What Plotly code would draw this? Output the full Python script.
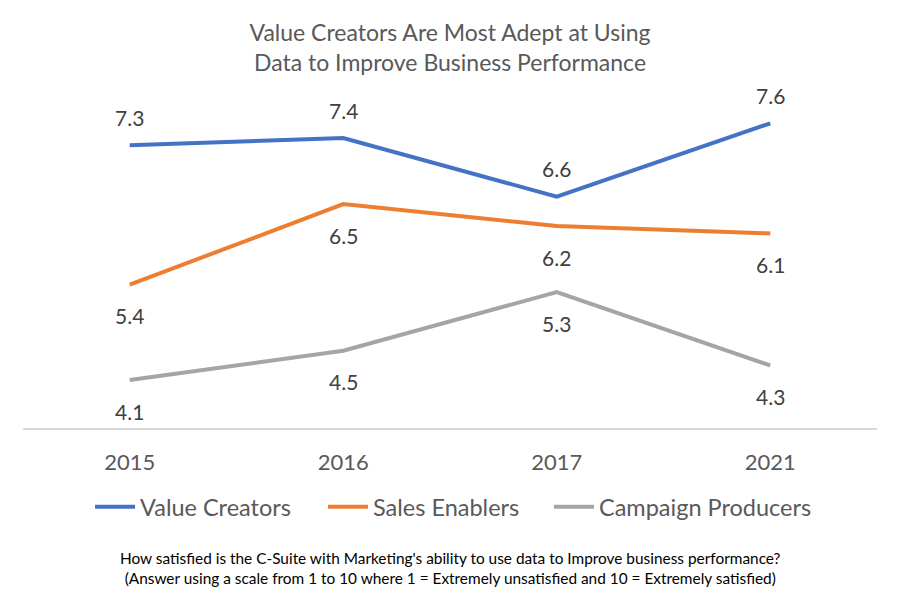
import plotly.graph_objects as go

years = ["2015", "2016", "2017", "2021"]
value_creators = [7.3, 7.4, 6.6, 7.6]
sales_enablers = [5.4, 6.5, 6.2, 6.1]
campaign_producers = [4.1, 4.5, 5.3, 4.3]

series_names = ["Value Creators", "Sales Enablers", "Campaign Producers"]
series_values = [value_creators, sales_enablers, campaign_producers]
series_colors = ["#4472C4", "#ED7D31", "#A5A5A5"]
label_shift = [28, -31, -31]
legend_ids = ["legend", "legend2", "legend3"]
legend_x = [0.0785, 0.3513, 0.6159]

title_text = "Value Creators Are Most Adept at Using<br>Data to Improve Business Performance"
footnote_text = ("How satisfied is the C-Suite with Marketing's ability to use data to Improve business performance?"
                 "<br>(Answer using a scale from 1 to 10 where 1 = Extremely unsatisfied and 10 = Extremely satisfied)")

FONT = "Lato, Calibri, sans-serif"

fig = go.Figure()
annotations = []
for name, vals, col, sh, lg in zip(series_names, series_values, series_colors, label_shift, legend_ids):
    fig.add_trace(go.Scatter(
        x=years, y=vals, mode="lines", name=name, legend=lg,
        line=dict(color=col, width=4), hoverinfo="x+y+name"))
    for i, yv in enumerate(vals):
        annotations.append(dict(
            x=i, y=yv, xref="x", yref="y", text=f"{yv:.1f}", showarrow=False,
            yshift=sh, font=dict(family=FONT, size=21, color="#404040")))

annotations.append(dict(
    x=0.5, y=-0.4177, xref="paper", yref="paper", text=footnote_text, showarrow=False,
    xanchor="center", yanchor="middle", align="center",
    font=dict(family=FONT, size=15.4, color="#000000")))

legend_common = dict(orientation="h", y=-0.2365, yanchor="middle", xanchor="left",
                     font=dict(family=FONT, size=23.5, color="#595959"),
                     itemwidth=40, bgcolor="rgba(0,0,0,0)")

fig.update_layout(
    width=900, height=600,
    margin=dict(l=23, r=23, t=94, b=172),
    paper_bgcolor="white", plot_bgcolor="white",
    title=dict(text=title_text, x=0.5, xanchor="center", xref="paper",
               y=1 - 41 / 600, yref="container", yanchor="middle",
               font=dict(family=FONT, size=23, color="#595959")),
    showlegend=True,
    legend=dict(x=legend_x[0], **legend_common),
    legend2=dict(x=legend_x[1], **legend_common),
    legend3=dict(x=legend_x[2], **legend_common),
    annotations=annotations,
    xaxis=dict(type="category", range=[-0.5, 3.5], showline=True, linecolor="#D9D9D9",
               linewidth=1.5, showgrid=False, zeroline=False, ticks="",
               tickfont=dict(family=FONT, size=22, color="#595959"),
               ticklabelstandoff=14),
    yaxis=dict(range=[3.447, 8.0], visible=False, showgrid=False, zeroline=False),
)

fig.write_html("out.html", config={"displayModeBar": False},
               post_script="document.body.style.margin='0';")
